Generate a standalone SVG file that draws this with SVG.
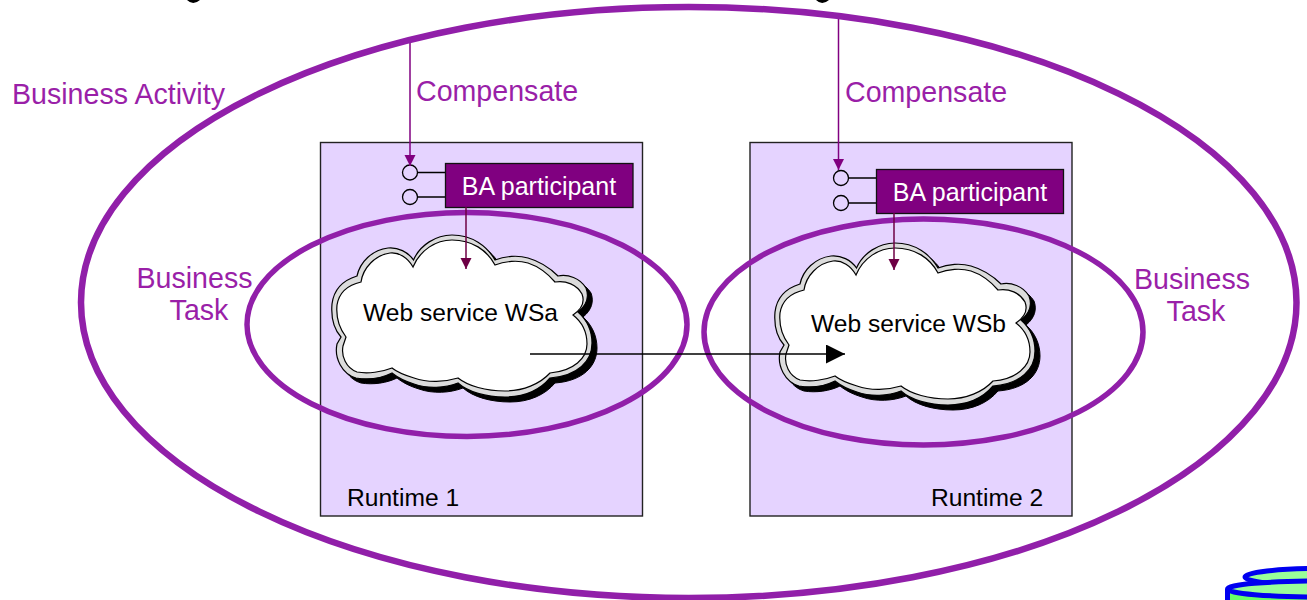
<svg xmlns="http://www.w3.org/2000/svg" xmlns:xlink="http://www.w3.org/1999/xlink" width="1307" height="600" viewBox="0 0 1307 600">
<style>
text{font-family:"Liberation Sans",Arial,sans-serif}
.p{font-size:28.6px;fill:#9a1fa8}
.k{font-size:24.6px;fill:#000}
.w{font-size:25px;fill:#fff}
.rt{fill:#e5d3ff;stroke:#222;stroke-width:1.4}
.ba{fill:#800080;stroke:#111;stroke-width:1.3}
.port{fill:#e5d3ff;stroke:#000;stroke-width:1.3}
.lk{stroke:#000;stroke-width:1.7;fill:none}
.ring{fill:none;stroke:#911fa9;stroke-width:5.5}
.cp{stroke:#800080;stroke-width:1.5;fill:none}
.dn{stroke:#6e0045;stroke-width:1.5;fill:none}
</style>
<defs>
<path id="cl" d="M413.5,260 C420,245 436,235 452,235 C472,235 487,246 495,260 C505,256 518,255 528,258 C542,262 552,270 558,276 C568,274 580,278 586,288 C589,296 587,305 578,312 C587,320 592,331 592,343 C592,361 578,376 550,378 C540,390 524,397 505,397 C486,397 468,392 458,383 C445,388 428,389 414,384 C404,381 397,377 392,373 C382,378 368,380 356,378 C342,374 334,358 337,344 L341,337 C333,328 331,316 332,304 C334,288 344,280 357,276 C360,262 372,250 388,248 C398,247 408,252 413.5,260 Z"/>
<path id="cli" d="M413,267 C420,250 436,240 452,240 C472,240 487,250 495,265 C505,261 518,260 528,263 C540,267 549,275 555,282 C566,280 577,285 582,294 C585,302 582,309 573,315 C582,322 587,332 587,344 C587,358 574,371 550,373 C540,384 523,391 505,391 C486,391 468,386 458,378 C445,382 428,383 414,378 C404,375 397,372 392,368 C382,372 368,374 357,372 C346,368 341,356 343,346 L346,337 C339,328 336,316 337,305 C339,293 348,285 361,282 C363,268 375,255 390,253 C399,252 408,258 413,267 Z"/>
<g id="cloud">
<use xlink:href="#cl" href="#cl" transform="translate(5,5)" fill="#000" stroke="#000" stroke-width="1"/>
<use xlink:href="#cl" href="#cl" fill="#dcdcdc" stroke="#000" stroke-width="1.2"/>
<use xlink:href="#cli" href="#cli" fill="#fff" stroke="#000" stroke-width="1.2"/>
</g>
<marker id="hcp" markerUnits="userSpaceOnUse" markerWidth="12" markerHeight="12" refX="11" refY="5.5" orient="auto"><path d="M0,0 L11,5.5 L0,11 Z" fill="#800080"/></marker>
<marker id="hdn" markerUnits="userSpaceOnUse" markerWidth="12" markerHeight="12" refX="11" refY="5.5" orient="auto"><path d="M0,0 L11,5.5 L0,11 Z" fill="#6e0045"/></marker>
<marker id="hk" markerUnits="userSpaceOnUse" markerWidth="20" markerHeight="20" refX="19" refY="9.5" orient="auto"><path d="M0,0 L19,9.5 L0,19 Z" fill="#000"/></marker>
</defs>
<rect width="1307" height="600" fill="#fff"/>
<path d="M187,0 Q193,6 200,0 Z M816,0 Q822,6 829,0 Z" fill="#000"/>
<g id="runtime-1"><rect class="rt" x="320.5" y="142.5" width="322" height="373.5"/><text class="k" x="347" y="506">Runtime 1</text></g>
<g id="runtime-2"><rect class="rt" x="750" y="142.5" width="322" height="373.5"/><text class="k" x="931" y="506">Runtime 2</text></g>
<g id="cloud-a"><use xlink:href="#cloud" href="#cloud"/><text class="k" x="363" y="321">Web service WSa</text></g>
<g id="cloud-b"><use xlink:href="#cloud" href="#cloud" transform="translate(443,8)"/><text class="k" x="811" y="332">Web service WSb</text></g>
<g id="task-a"><ellipse class="ring" cx="467" cy="324.5" rx="220" ry="112"/><text class="p" x="194.500" y="288" text-anchor="middle">Business</text><text class="p" x="199" y="320" text-anchor="middle">Task</text></g>
<g id="task-b"><ellipse class="ring" cx="923.5" cy="332" rx="219.5" ry="113"/><text class="p" x="1192" y="289" text-anchor="middle">Business</text><text class="p" x="1196" y="321" text-anchor="middle">Task</text></g>
<g id="ba-a"><path class="lk" d="M417,172.500H446 M417,197H446"/><circle class="port" cx="410" cy="172.500" r="7.500"/><circle class="port" cx="410" cy="197" r="7.500"/><rect class="ba" x="445.500" y="163.500" width="187.500" height="44"/><text class="w" x="539" y="195" text-anchor="middle">BA participant</text></g>
<g id="ba-b"><path class="lk" d="M848,178H877 M848,203H877"/><circle class="port" cx="841" cy="178" r="7.500"/><circle class="port" cx="841" cy="203" r="7.500"/><rect class="ba" x="876.500" y="169.500" width="187" height="44"/><text class="w" x="970" y="201" text-anchor="middle">BA participant</text></g>
<g id="connectors">
<path class="cp" d="M410,40V166" marker-end="url(#hcp)"/>
<path class="cp" d="M838.500,18V170" marker-end="url(#hcp)"/>
<path class="dn" d="M466,207V269" marker-end="url(#hdn)"/>
<path class="dn" d="M894,213V270" marker-end="url(#hdn)"/>
<path d="M530,354H845" stroke="#000" stroke-width="1.300" fill="none" marker-end="url(#hk)"/>
</g>
<g id="activity"><ellipse class="ring" style="stroke-width:6.500" cx="688.750" cy="302.500" rx="607.750" ry="295.500"/><text class="p" x="12" y="104">Business Activity</text></g>
<text class="p" x="416" y="101">Compensate</text>
<text class="p" x="845" y="102">Compensate</text>
<g id="storage">
<ellipse cx="1320" cy="577" rx="75" ry="8.500" fill="#99ff99" stroke="#0000f0" stroke-width="5"/>
<path d="M1227.500,590V600H1320V590Z" fill="#66ff66"/>
<path d="M1227.500,600V589" fill="none" stroke="#0000f0" stroke-width="5"/>
<ellipse cx="1320" cy="589" rx="92.500" ry="8" fill="#99ff99" stroke="#0000f0" stroke-width="5"/>
</g>
</svg>
